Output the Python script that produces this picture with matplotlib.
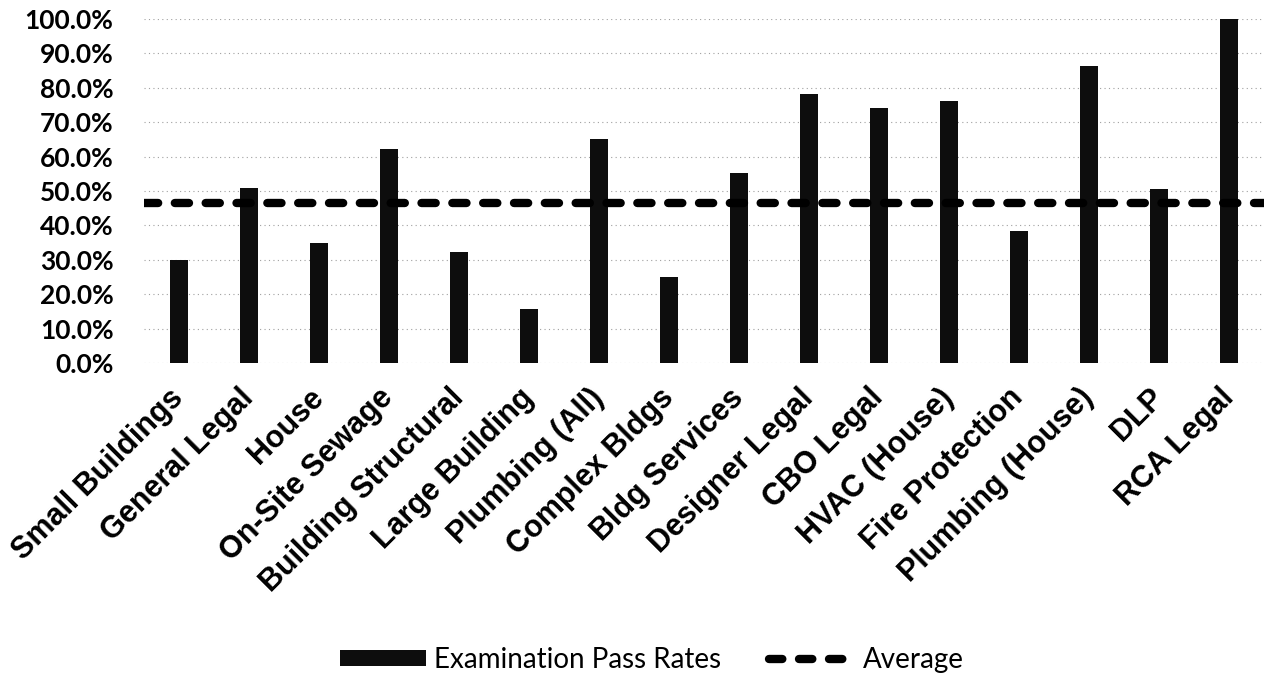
import matplotlib
matplotlib.use("Agg")
import matplotlib.pyplot as plt
from matplotlib.lines import Line2D
from matplotlib.patches import Patch

categories = ["Small Buildings", "General Legal", "House", "On-Site Sewage",
              "Building Structural", "Large Building", "Plumbing (All)",
              "Complex Bldgs", "Bldg Services", "Designer Legal", "CBO Legal",
              "HVAC (House)", "Fire Protection", "Plumbing (House)", "DLP",
              "RCA Legal"]
pass_rates = [0.300, 0.508, 0.349, 0.622, 0.324, 0.158, 0.650,
              0.250, 0.553, 0.781, 0.741, 0.763, 0.384, 0.863, 0.506, 1.000]
average = 0.466
yticks = [0.0, 0.1, 0.2, 0.3, 0.4, 0.5, 0.6, 0.7, 0.8, 0.9, 1.0]

fig = plt.figure(figsize=(12.64, 6.75), dpi=100)
ax = fig.add_axes([144/1264, 1-363/675, 1-144/1264, (363-19)/675])

x = list(range(len(categories)))
ax.bar(x, pass_rates, width=0.27, color="#0d0d0d", zorder=2)
ax.axhline(average, color="black", lw=6, ls=(0, (1.7, 2.0)),
           dash_capstyle="round", zorder=3)

ax.set_xlim(-0.5, len(categories) - 0.5)
ax.set_ylim(0, 1.0)
ax.set_yticks(yticks)
ax.set_yticklabels([f"{v*100:.1f}%" for v in yticks],
                   fontsize=19, fontweight="bold", family="Lato")
ax.set_xticks(x)
ax.set_xticklabels(categories, rotation=45, ha="right", va="center",
                   rotation_mode="anchor",
                   fontsize=22, fontweight="bold", family="Liberation Sans")
ax.tick_params(axis="y", length=0, pad=22)
ax.tick_params(axis="x", length=0, pad=22)
for s in ax.spines.values():
    s.set_visible(False)
ax.yaxis.grid(True, color="#a0a0a0", ls=(0, (1, 3)), lw=0.8, zorder=0)
ax.set_axisbelow(True)

handles = [Patch(facecolor="#0d0d0d", edgecolor="none"),
           Line2D([], [], color="black", lw=6, ls=(0, (1.6, 2.0)),
                  dash_capstyle="round")]
fig.legend(handles, ["Examination Pass Rates", "Average"],
           loc="center", bbox_to_anchor=(652/1264, 1-660/675), ncol=2,
           frameon=False, prop={"family": "Lato", "size": 20},
           handlelength=3.1, handleheight=0.5, columnspacing=1.7,
           handletextpad=0.3)

fig.savefig("out.png", dpi=100)
